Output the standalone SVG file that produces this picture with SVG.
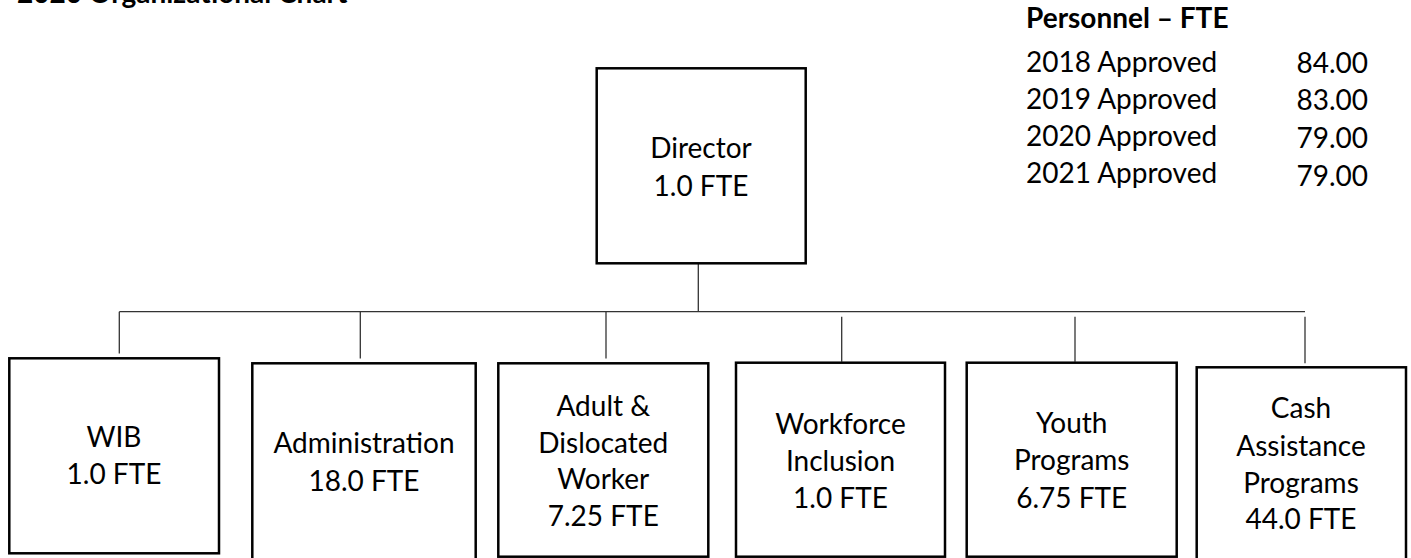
<svg xmlns="http://www.w3.org/2000/svg" width="1411" height="558" viewBox="0 0 1411 558">
<style>
  .box { fill: #ffffff; stroke: #000000; stroke-width: 2.5; }
  .conn { stroke: #333333; stroke-width: 1.3; fill: none; }
  .lbl { font-family: Lato, "Liberation Sans", sans-serif; font-size: 28px; fill: #000000; text-anchor: middle; }
  .tbl { font-family: Lato, "Liberation Sans", sans-serif; font-size: 28px; fill: #000000; }
  .num { text-anchor: end; }
  .bold { font-weight: bold; }
</style>
<rect width="1411" height="558" fill="#ffffff"/>
<text class="tbl bold" x="17" y="3">2020 Organizational Chart</text>
<g id="fte-table">
  <text class="tbl bold" x="1026" y="28">Personnel – FTE</text>
  <text class="tbl" x="1026" y="72">2018 Approved</text>
  <text class="tbl" x="1026" y="109">2019 Approved</text>
  <text class="tbl" x="1026" y="146">2020 Approved</text>
  <text class="tbl" x="1026" y="183">2021 Approved</text>
  <text class="tbl num" x="1368" y="73">84.00</text>
  <text class="tbl num" x="1368" y="110">83.00</text>
  <text class="tbl num" x="1368" y="148">79.00</text>
  <text class="tbl num" x="1368" y="186">79.00</text>
</g>
<g id="connectors">
  <line class="conn" x1="698.3" y1="264" x2="698.3" y2="311.7"/>
  <line class="conn" x1="119.3" y1="311.7" x2="1305" y2="311.7"/>
  <line class="conn" x1="119.3" y1="311.7" x2="119.3" y2="353.5"/>
  <line class="conn" x1="360.3" y1="311.7" x2="360.3" y2="358.5"/>
  <line class="conn" x1="606" y1="311.7" x2="606" y2="358.5"/>
  <line class="conn" x1="841.7" y1="316.7" x2="841.7" y2="361.7"/>
  <line class="conn" x1="1075" y1="316.7" x2="1075" y2="361.7"/>
  <line class="conn" x1="1305" y1="316.7" x2="1305" y2="363.3"/>
</g>
<g id="director">
  <rect class="box" x="596.7" y="68.3" width="209" height="195"/>
  <text class="lbl" x="701" y="158">Director</text>
  <text class="lbl" x="701" y="195.5">1.0 FTE</text>
</g>
<g id="wib">
  <rect class="box" x="9.3" y="358.3" width="209.7" height="195"/>
  <text class="lbl" x="114" y="446.7">WIB</text>
  <text class="lbl" x="114" y="484">1.0 FTE</text>
</g>
<g id="administration">
  <rect class="box" x="252.3" y="363.3" width="223.4" height="200"/>
  <text class="lbl" x="364" y="453.3">Administration</text>
  <text class="lbl" x="364" y="490.7">18.0 FTE</text>
</g>
<g id="adult-dislocated">
  <rect class="box" x="498.3" y="363.3" width="210" height="193.4"/>
  <text class="lbl" x="603.3" y="416">Adult &amp;</text>
  <text class="lbl" x="603.3" y="452.7">Dislocated</text>
  <text class="lbl" x="603.3" y="489">Worker</text>
  <text class="lbl" x="603.3" y="525.7">7.25 FTE</text>
</g>
<g id="workforce-inclusion">
  <rect class="box" x="736" y="362.7" width="209" height="194"/>
  <text class="lbl" x="840.5" y="434">Workforce</text>
  <text class="lbl" x="840.5" y="471">Inclusion</text>
  <text class="lbl" x="840.5" y="507.7">1.0 FTE</text>
</g>
<g id="youth-programs">
  <rect class="box" x="966.7" y="362.7" width="210" height="194"/>
  <text class="lbl" x="1071.7" y="433.3">Youth</text>
  <text class="lbl" x="1071.7" y="470">Programs</text>
  <text class="lbl" x="1071.7" y="507.7">6.75 FTE</text>
</g>
<g id="cash-assistance">
  <rect class="box" x="1196.7" y="367.3" width="209.3" height="200"/>
  <text class="lbl" x="1301" y="418.3">Cash</text>
  <text class="lbl" x="1301" y="456">Assistance</text>
  <text class="lbl" x="1301" y="492.7">Programs</text>
  <text class="lbl" x="1301" y="529.3">44.0 FTE</text>
</g>
</svg>
